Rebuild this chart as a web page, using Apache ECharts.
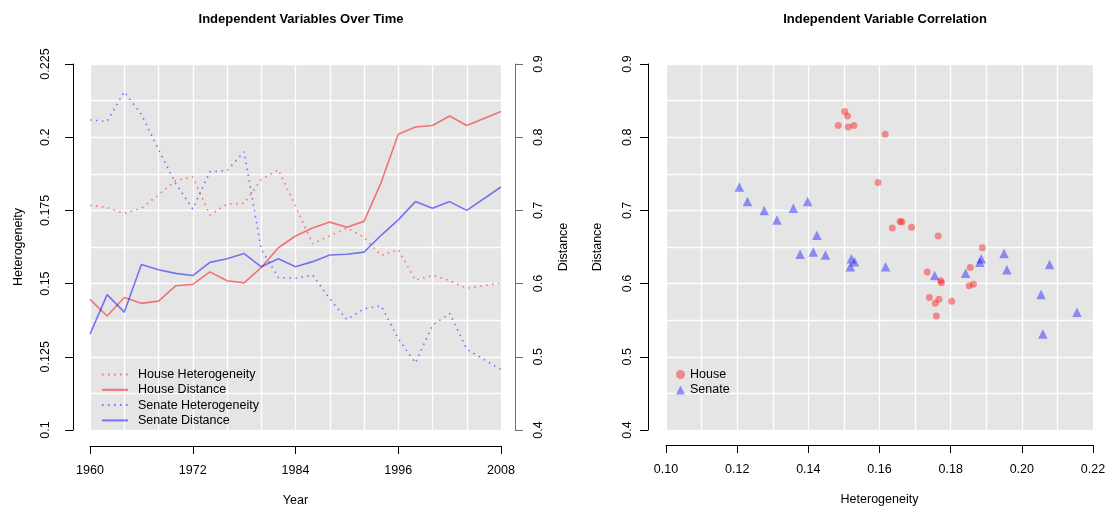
<!DOCTYPE html>
<html>
<head>
<meta charset="utf-8">
<script src="https://cdn.jsdelivr.net/npm/echarts@6/dist/echarts.min.js"></script>
<style>
  html, body { margin: 0; padding: 0; background: #ffffff; }
  #chart { width: 1107px; height: 508px; }
</style>
</head>
<body>
<div id="chart"></div>
<script>
// Congress years (2006 has no observation)
const years = [1960, 1962, 1964, 1966, 1968, 1970, 1972, 1974, 1976, 1978, 1980, 1982,
               1984, 1986, 1988, 1990, 1992, 1994, 1996, 1998, 2000, 2002, 2004, 2008];

const houseHet = [0.1767, 0.1760, 0.1740, 0.1757, 0.1803, 0.1852, 0.1864, 0.1734, 0.1772, 0.1774, 0.1855, 0.1889,
                  0.1765, 0.1636, 0.1663, 0.1690, 0.1658, 0.1596, 0.1616, 0.1512, 0.1528, 0.1510, 0.1484, 0.1502];
const houseDist = [0.5785, 0.5557, 0.581, 0.573, 0.576, 0.597, 0.599, 0.616, 0.604, 0.601, 0.622, 0.649,
                   0.665, 0.676, 0.684, 0.677, 0.685, 0.738, 0.804, 0.814, 0.816, 0.829, 0.816, 0.835];
const senateHet = [0.2059, 0.2054, 0.2155, 0.2078, 0.1958, 0.1842, 0.1755, 0.1882, 0.1886, 0.1950, 0.1617, 0.1521,
                   0.1518, 0.1530, 0.1448, 0.1377, 0.1414, 0.1424, 0.1312, 0.1229, 0.1358, 0.1398, 0.1276, 0.1206];
const senateDist = [0.531, 0.585, 0.561, 0.626, 0.619, 0.614, 0.611, 0.629, 0.634, 0.641, 0.623, 0.634,
                    0.623, 0.630, 0.639, 0.640, 0.643, 0.666, 0.687, 0.712, 0.703, 0.712, 0.700, 0.732];

const yearTicks = [1960, 1972, 1984, 1996, 2008];

const RED = 'rgba(255,0,0,0.5)';
const BLUE = 'rgba(0,0,255,0.5)';
const FONT = 'Liberation Sans';
const DOT = [1.5, 4.5];

const pairs = (xs, ys) => xs.map((x, i) => [x, ys[i]]);

const gridLinesOnly = {
  axisLine: { show: false }, axisTick: { show: false }, axisLabel: { show: false },
  splitLine: { show: true, lineStyle: { color: '#ffffff', width: 1.3 } }
};
const labelStyle = { color: '#000', fontFamily: FONT, fontSize: 12.5 };
const nameStyle = { color: '#000', fontFamily: FONT, fontSize: 12.5 };

const chart = echarts.init(document.getElementById('chart'), null, { renderer: 'canvas' });

chart.setOption({
  animation: false,
  backgroundColor: '#ffffff',
  title: [
    { text: 'Independent Variables Over Time', left: 296, top: 8, textAlign: 'center',
      textStyle: { fontFamily: FONT, fontSize: 13, fontWeight: 'bold', color: '#000' } },
    { text: 'Independent Variable Correlation', left: 880, top: 8, textAlign: 'center',
      textStyle: { fontFamily: FONT, fontSize: 13, fontWeight: 'bold', color: '#000' } }
  ],
  grid: [
    { left: 90, top: 64, width: 411, height: 366, show: true, backgroundColor: '#e5e5e5', borderWidth: 0,
      outerBoundsMode: 'none', containLabel: false },
    { left: 666, top: 64, width: 427, height: 366, show: true, backgroundColor: '#e5e5e5', borderWidth: 0,
      outerBoundsMode: 'none', containLabel: false }
  ],
  xAxis: [
    Object.assign({ gridIndex: 0, type: 'value', min: 1960, max: 2008, interval: 4 }, gridLinesOnly),
    { gridIndex: 0, type: 'value', min: 1960, max: 2008, offset: 16, position: 'bottom',
      axisLine: { show: true, lineStyle: { color: '#000', width: 1 } },
      axisTick: { show: true, length: 8, customValues: yearTicks, lineStyle: { color: '#000' } },
      axisLabel: Object.assign({ customValues: yearTicks, margin: 18, formatter: v => String(v) }, labelStyle),
      splitLine: { show: false },
      name: 'Year', nameLocation: 'middle', nameGap: 48, nameTextStyle: nameStyle },
    Object.assign({ gridIndex: 1, type: 'value', min: 0.10, max: 0.22, interval: 0.01 }, gridLinesOnly),
    { gridIndex: 1, type: 'value', min: 0.10, max: 0.22, interval: 0.02, offset: 15, position: 'bottom',
      axisLine: { show: true, lineStyle: { color: '#000', width: 1 } },
      axisTick: { show: true, length: 8, lineStyle: { color: '#000' } },
      axisLabel: Object.assign({ margin: 18, formatter: v => v.toFixed(2), showMaxLabel: true }, labelStyle),
      splitLine: { show: false },
      name: 'Heterogeneity', nameLocation: 'middle', nameGap: 48, nameTextStyle: nameStyle }
  ],
  yAxis: [
    Object.assign({ gridIndex: 0, type: 'value', min: 0.4, max: 0.9, interval: 0.05, position: 'left' }, gridLinesOnly),
    { gridIndex: 0, type: 'value', min: 0.1, max: 0.225, interval: 0.025, offset: 17, position: 'left',
      axisLine: { show: true, lineStyle: { color: '#000', width: 1 } },
      axisTick: { show: true, length: 8, lineStyle: { color: '#000' } },
      axisLabel: Object.assign({ rotate: 90, margin: 21, formatter: v => String(+v.toFixed(3)) }, labelStyle),
      splitLine: { show: false },
      name: 'Heterogeneity', nameLocation: 'middle', nameRotate: 90, nameGap: 48, nameTextStyle: nameStyle },
    { gridIndex: 0, type: 'value', min: 0.4, max: 0.9, interval: 0.1, offset: 14, position: 'right',
      axisLine: { show: true, lineStyle: { color: '#707070', width: 1 } },
      axisTick: { show: true, length: 8, lineStyle: { color: '#707070' } },
      axisLabel: Object.assign({ rotate: 90, margin: 17, formatter: v => String(+v.toFixed(2)) }, labelStyle),
      splitLine: { show: false },
      name: 'Distance', nameLocation: 'middle', nameRotate: 90, nameGap: 42, nameTextStyle: nameStyle },
    Object.assign({ gridIndex: 1, type: 'value', min: 0.4, max: 0.9, interval: 0.05, position: 'left' }, gridLinesOnly),
    { gridIndex: 1, type: 'value', min: 0.4, max: 0.9, interval: 0.1, offset: 18, position: 'left',
      axisLine: { show: true, lineStyle: { color: '#000', width: 1 } },
      axisTick: { show: true, length: 8, lineStyle: { color: '#000' } },
      axisLabel: Object.assign({ rotate: 90, margin: 14, formatter: v => String(+v.toFixed(2)) }, labelStyle),
      splitLine: { show: false },
      name: 'Distance', nameLocation: 'middle', nameRotate: 90, nameGap: 44, nameTextStyle: nameStyle }
  ],
  legend: [
    { orient: 'vertical', left: 96, top: 363, itemWidth: 26, itemHeight: 14, itemGap: 2.3,
      itemStyle: { opacity: 0 },
      textStyle: { fontFamily: FONT, fontSize: 12.5, color: '#000', padding: [0, 0, 0, 5] },
      data: ['House Heterogeneity', 'House Distance', 'Senate Heterogeneity', 'Senate Distance'] },
    { orient: 'vertical', left: 671, top: 363, itemWidth: 9, itemHeight: 9, itemGap: 2.5,
      textStyle: { fontFamily: FONT, fontSize: 12.5, color: '#000', padding: [0, 0, 0, 0] },
      data: ['House', 'Senate'] }
  ],
  series: [
    { name: 'House Heterogeneity', type: 'line', xAxisIndex: 1, yAxisIndex: 1, symbol: 'none',
      data: pairs(years, houseHet), itemStyle: { color: RED },
      lineStyle: { color: RED, width: 1.6, type: DOT } },
    { name: 'House Distance', type: 'line', xAxisIndex: 1, yAxisIndex: 2, symbol: 'none',
      data: pairs(years, houseDist), itemStyle: { color: RED },
      lineStyle: { color: RED, width: 1.6 } },
    { name: 'Senate Heterogeneity', type: 'line', xAxisIndex: 1, yAxisIndex: 1, symbol: 'none',
      data: pairs(years, senateHet), itemStyle: { color: BLUE },
      lineStyle: { color: BLUE, width: 1.6, type: DOT } },
    { name: 'Senate Distance', type: 'line', xAxisIndex: 1, yAxisIndex: 2, symbol: 'none',
      data: pairs(years, senateDist), itemStyle: { color: BLUE },
      lineStyle: { color: BLUE, width: 1.6 } },
    { name: 'House', type: 'scatter', xAxisIndex: 3, yAxisIndex: 4, symbol: 'circle', symbolSize: 7,
      data: pairs(houseHet, houseDist), itemStyle: { color: RED } },
    { name: 'Senate', type: 'scatter', xAxisIndex: 3, yAxisIndex: 4, symbol: 'triangle', symbolSize: 9.5,
      data: pairs(senateHet, senateDist), itemStyle: { color: BLUE } }
  ]
});
</script>
</body>
</html>
